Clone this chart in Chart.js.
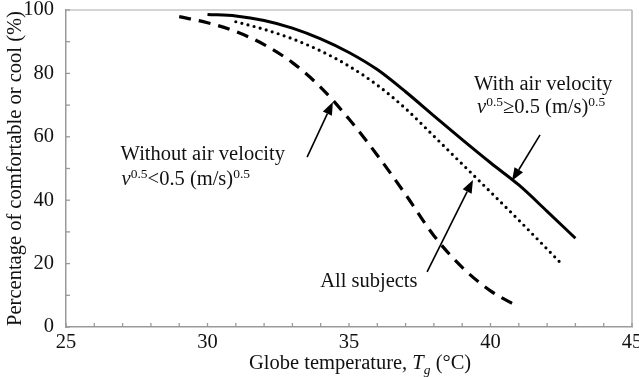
<!DOCTYPE html>
<html><head><meta charset="utf-8">
<script src="https://cdn.jsdelivr.net/npm/chart.js@4.4.0/dist/chart.umd.min.js"></script>
<style>html,body{margin:0;padding:0;background:#fff;overflow:hidden}#wrap{width:639px;height:377px;position:relative}</style>
</head><body><div id="wrap"><canvas id="c" width="639" height="377"></canvas></div>
<script>
// ---- data ----
const tempWith    = [30, 31, 32, 33, 34, 35, 36, 37, 38, 39, 40, 41, 42, 43];
const pctWith     = [98.6, 98.1, 96.7, 94.3, 90.9, 86.6, 81.2, 74.2, 66.6, 59.1, 51.8, 44.8, 36.5, 28.0];
const tempAll     = [31, 32, 33, 34, 35, 36, 37, 38, 39, 40, 41, 42, 42.5];
const pctAll      = [96.3, 93.9, 90.9, 87.1, 82.3, 76.3, 68.9, 60.2, 51.4, 42.6, 33.7, 24.6, 20.0];
const tempWithout = [29, 30, 31, 32, 33, 34, 35, 36, 37, 38, 39, 40, 41];
const pctWithout  = [97.9, 96.0, 93.2, 89.1, 83.4, 75.6, 65.6, 54.2, 41.8, 28.8, 18.8, 11.4, 6.3];
const xTickLabels = [25, 30, 35, 40, 45];
const yTickLabels = [0, 20, 40, 60, 80, 100];
const xTitle = [{t: 'Globe temperature, '}, {t: 'T', i: true}, {t: 'g', i: true, sub: true}, {t: ' (°C)'}];
const yTitle = 'Percentage of comfortable or cool (%)';
const labelWithout = [[{t: 'Without air velocity'}], [{t: 'v', i: true}, {t: '0.5', sup: true}, {t: '<0.5 (m/s)'}, {t: '0.5', sup: true}]];
const labelWith = [[{t: 'With air velocity'}], [{t: 'v', i: true}, {t: '0.5', sup: true}, {t: '≥0.5 (m/s)'}, {t: '0.5', sup: true}]];
const labelAll = [[{t: 'All subjects'}]];

const FONT = '"Liberation Serif", "Times New Roman", serif';
const MAIN = 20.5, SMALL = 13.5;

function pts(xs, ys) { return xs.map((x, i) => ({x: x, y: ys[i]})); }

function drawRich(ctx, parts, x, y) {
  let cx = x;
  ctx.textAlign = 'left';
  ctx.textBaseline = 'alphabetic';
  for (const p of parts) {
    const size = (p.sup || p.sub) ? SMALL : MAIN;
    ctx.font = (p.i ? 'italic ' : '') + size + 'px ' + FONT;
    const dy = p.sup ? -7 : (p.sub ? 5 : 0);
    ctx.fillText(p.t, cx, y + dy);
    cx += ctx.measureText(p.t).width;
  }
}

function arrow(ctx, x1, y1, x2, y2) {
  const ang = Math.atan2(y2 - y1, x2 - x1);
  const L = 13, W = 5;
  const bx = x2 - L * Math.cos(ang), by = y2 - L * Math.sin(ang);
  ctx.beginPath();
  ctx.moveTo(x1, y1); ctx.lineTo(bx, by);
  ctx.lineWidth = 1.6; ctx.strokeStyle = '#000'; ctx.stroke();
  ctx.beginPath();
  ctx.moveTo(x2, y2);
  ctx.lineTo(bx + W * Math.sin(ang), by - W * Math.cos(ang));
  ctx.lineTo(bx - W * Math.sin(ang), by + W * Math.cos(ang));
  ctx.closePath(); ctx.fillStyle = '#000'; ctx.fill();
}

const deco = {
  id: 'deco',
  afterDraw(chart) {
    const ctx = chart.ctx, xs = chart.scales.x, ys = chart.scales.y, a = chart.chartArea;
    ctx.save();
    // frame top / right
    ctx.lineWidth = 1.5;
    ctx.strokeStyle = '#c6c6c6';
    ctx.beginPath(); ctx.moveTo(a.left, a.top); ctx.lineTo(a.right, a.top); ctx.stroke();
    ctx.strokeStyle = '#b0b0b0';
    ctx.beginPath(); ctx.moveTo(a.right, a.top); ctx.lineTo(a.right, a.bottom); ctx.stroke();
    // inward ticks
    ctx.strokeStyle = '#999'; ctx.lineWidth = 1.3;
    for (let v = xs.min; v <= xs.max; v += 1) {
      const px = xs.getPixelForValue(v);
      ctx.beginPath(); ctx.moveTo(px, a.bottom); ctx.lineTo(px, a.bottom - 4); ctx.stroke();
    }
    for (let v = ys.min; v <= ys.max; v += 10) {
      const py = ys.getPixelForValue(v);
      ctx.beginPath(); ctx.moveTo(a.left, py); ctx.lineTo(a.left + 4, py); ctx.stroke();
    }
    // arrows
    const P = (x, y) => [xs.getPixelForValue(x), ys.getPixelForValue(y)];
    const arr = [[33.52, 53.6, 34.43, 71.0], [41.75, 60.6, 40.76, 46.1], [37.76, 17.4, 39.38, 46.4]];
    for (const r of arr) { const t = P(r[0], r[1]), h = P(r[2], r[3]); arrow(ctx, t[0], t[1], h[0], h[1]); }
    // labels
    ctx.fillStyle = '#111';
    const lab = (lines, x, y0, y1) => {
      const p0 = P(x, y0); drawRich(ctx, lines[0], p0[0], p0[1]);
      if (lines[1]) { const p1 = P(x, y1); drawRich(ctx, lines[1], p1[0] + (lines === labelWith ? 3 : 1), p1[1]); }
    };
    lab(labelWithout, 26.93, 52.7, 44.8);
    lab(labelWith, 39.42, 74.8, 67.4);
    lab(labelAll, 33.98, 12.7);
    // axis titles
    drawRich(ctx, xTitle, 249, 369);
    ctx.save();
    ctx.translate(21, (a.top + a.bottom) / 2);
    ctx.rotate(-Math.PI / 2);
    ctx.font = MAIN + 'px ' + FONT;
    ctx.textAlign = 'center'; ctx.textBaseline = 'alphabetic';
    ctx.fillText(yTitle, 0, 0);
    ctx.restore();
    ctx.restore();
  }
};

new Chart(document.getElementById('c'), {
  type: 'line',
  data: {
    datasets: [
      {label: 'With air velocity', data: pts(tempWith, pctWith), borderColor: '#000', borderWidth: 3, pointRadius: 0, cubicInterpolationMode: 'monotone', fill: false},
      {label: 'All subjects', data: pts(tempAll, pctAll), borderColor: '#000', borderWidth: 3.2, borderDash: [0, 6.3], borderCapStyle: 'round', pointRadius: 0, cubicInterpolationMode: 'monotone', fill: false},
      {label: 'Without air velocity', data: pts(tempWithout, pctWithout), borderColor: '#000', borderWidth: 3.2, borderDash: [12, 8], pointRadius: 0, cubicInterpolationMode: 'monotone', fill: false}
    ]
  },
  options: {
    responsive: false, animation: false, devicePixelRatio: 1,
    layout: {padding: {top: 10, right: 0, bottom: 0, left: 0}},
    plugins: {legend: {display: false}, tooltip: {enabled: false}},
    scales: {
      x: {
        type: 'linear', min: 25, max: 45,
        afterBuildTicks: s => { s.ticks = xTickLabels.map(v => ({value: v})); },
        afterFit: s => { s.height = 50; s.paddingRight = 7; s.paddingLeft = 0; },
        ticks: {color: '#111', padding: -5, maxRotation: 0, autoSkip: false, font: {family: FONT, size: MAIN}},
        grid: {display: false},
        border: {display: true, color: '#9a9a9a', width: 1.5}
      },
      y: {
        type: 'linear', min: 0, max: 100,
        afterBuildTicks: s => { s.ticks = yTickLabels.map(v => ({value: v})); },
        afterFit: s => { s.width = 66; s.paddingTop = 0; s.paddingBottom = 0; },
        ticks: {color: '#111', padding: 4, font: {family: FONT, size: MAIN}},
        grid: {display: false},
        border: {display: true, color: '#9a9a9a', width: 1.5}
      }
    }
  },
  plugins: [deco]
});
</script></body></html>
